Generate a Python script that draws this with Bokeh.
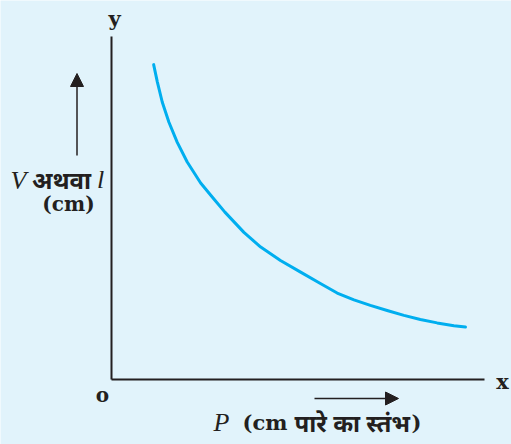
from bokeh.plotting import figure
from bokeh.models import Range1d, Arrow, NormalHead, Label
from bokeh.embed import file_html
from bokeh.resources import INLINE

# Data (P : pressure, V : volume, arbitrary units)
P = [1.13, 1.23, 1.36, 1.54, 1.76, 2.03, 2.39, 2.70, 3.04, 3.55, 4.00, 4.53,
     5.07, 5.60, 6.05, 6.50, 6.94, 7.39, 7.84, 8.28, 8.73, 9.18, 9.49]
V = [9.18, 8.67, 8.09, 7.50, 6.92, 6.34, 5.73, 5.32, 4.88, 4.29, 3.86, 3.47,
     3.13, 2.80, 2.52, 2.32, 2.16, 2.01, 1.87, 1.75, 1.65, 1.57, 1.53]
P_MAX = 10
V_MAX = 10

BG = "#e1f3fb"
INK = "#231f20"
CURVE = "#00aeef"
W, H = 511, 444


# helpers converting image pixel positions (for annotations) into data units
def X(px):
    return (px - 111) / 37.3


def Y(py):
    return (379 - py) / 34.3


p = figure(width=W, height=H,
           x_range=Range1d(X(0), X(W)), y_range=Range1d(Y(H), Y(0)),
           min_border=0, toolbar_location=None, output_backend="svg")
p.xaxis.visible = False
p.yaxis.visible = False
p.grid.visible = False
p.outline_line_color = None
p.background_fill_color = BG
p.border_fill_color = BG

# axes
p.segment(x0=[0, 0], y0=[0, 0], x1=[P_MAX, 0], y1=[0, V_MAX], line_color=INK, line_width=2)

# curve
p.line(P, V, line_color=CURVE, line_width=3, line_join="round", line_cap="round")

# arrows
p.add_layout(Arrow(end=NormalHead(size=13, fill_color=INK, line_color=INK),
                   x_start=X(76.5), y_start=Y(155), x_end=X(76.5), y_end=Y(73),
                   line_color=INK, line_width=1.5))
p.add_layout(Arrow(end=NormalHead(size=13, fill_color=INK, line_color=INK),
                   x_start=X(314), y_start=Y(398), x_end=X(398), y_end=Y(398),
                   line_color=INK, line_width=1.5))


def lab(px, py, text, size="22px", style="bold", font="DejaVu Serif", align="center"):
    p.add_layout(Label(x=X(px), y=Y(py), text=text, text_font=font, text_font_style=style,
                       text_font_size=size, text_align=align, text_baseline="middle",
                       text_color=INK))


lab(114, 18, "y", size="21px")
lab(502, 381, "x", size="21px")
lab(102, 394, "o", size="20px")
lab(18, 180, "V", size="26px", style="italic", font="Liberation Serif")
lab(61, 179, "अथवा", size="24px", style="bold", font="Noto Sans")
lab(100, 179, "l", size="26px", style="italic", font="Liberation Serif")
lab(68, 203, "(cm)", size="20px")
lab(221, 422, "P", size="26px", style="italic", font="Liberation Serif")
lab(242, 422, "(cm", size="21px", align="left")
lab(294, 422, "पारे का स्तंभ", size="24px", style="bold", font="Noto Sans", align="left")
lab(421, 422, ")", size="21px", align="right")

html = file_html(p, INLINE)
html = html.replace("<body>", '<body style="background:%s;margin:0">' % BG, 1)
open("out.html", "w").write(html)
